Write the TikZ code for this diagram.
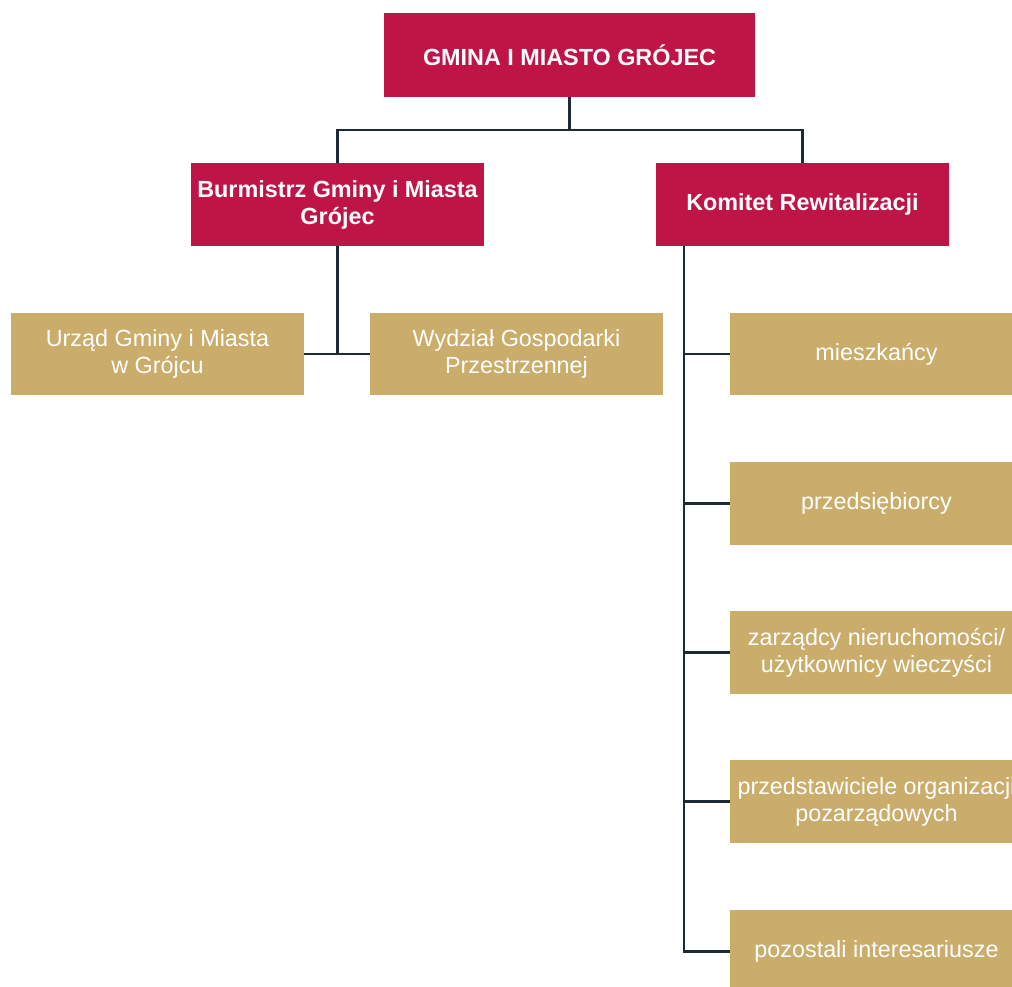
\documentclass[tikz,border=0pt]{standalone}
\usepackage{fontspec}
\setmainfont{Liberation Sans}
\usepackage{tikz}

\definecolor{crimson}{HTML}{BE1446}
\definecolor{gold}{HTML}{CBAD6B}
\definecolor{linecol}{HTML}{1E2936}

\begin{document}
\begin{tikzpicture}
[x=0.02cm, y=-0.02cm]
\tikzstyle{every node}=[inner sep=2pt, align=center, text=white, font=\fontsize{13.3}{15.4}\selectfont]
\tikzstyle{head}=[fill=crimson, font=\fontsize{13.3}{15.4}\selectfont\bfseries, minimum width=5.86cm, minimum height=1.66cm]
\tikzstyle{unit}=[fill=gold, minimum width=5.86cm, minimum height=1.66cm]
\tikzstyle{link}=[draw=linecol, line width=1.15pt]
\useasboundingbox (0,0) rectangle (1012,987);
\clip (0,0) rectangle (1012,987);

% top level
\node[head, minimum width=7.42cm, minimum height=1.68cm] (gmina) at (569.5,55) {GMINA I MIASTO GRÓJEC};
\node[head] (burmistrz) at (337.5,204.5) {Burmistrz Gminy i Miasta\\Grójec};
\node[head] (komitet) at (802.5,204.5) {Komitet Rewitalizacji};

% under the mayor
\node[unit] (urzad) at (157.5,354) {Urząd Gminy i Miasta\\w Grójcu};
\node[unit] (wydzial) at (516.5,354) {Wydział Gospodarki\\Przestrzennej};

% members of the committee
\node[unit] (p1) at (876.5,354) {mieszkańcy};
\node[unit] (p2) at (876.5,503.5) {przedsiębiorcy};
\node[unit] (p3) at (876.5,652.5) {zarządcy nieruchomości/\\użytkownicy wieczyści};
\node[unit] (p4) at (876.5,801.5) {przedstawiciele organizacji\\pozarządowych};
\node[unit] (p5) at (876.5,951.5) {pozostali interesariusze};

% connectors
\coordinate (fork) at ([yshift=-0.66cm]gmina.south);
\draw[link] (gmina.south) -- (fork);
\draw[link] (fork) -| (burmistrz.north);
\draw[link] (fork) -| (komitet.north);
\draw[link] (urzad.east) -- (wydzial.west);
\draw[link] (burmistrz.south) -- (burmistrz.south |- urzad.east);
\coordinate (spine) at ([xshift=0.56cm]komitet.south west);
\draw[link] (spine) |- (p5.west);
\foreach \p in {p1,p2,p3,p4}
  \draw[link] (spine |- \p.west) -- (\p.west);
\end{tikzpicture}
\end{document}
